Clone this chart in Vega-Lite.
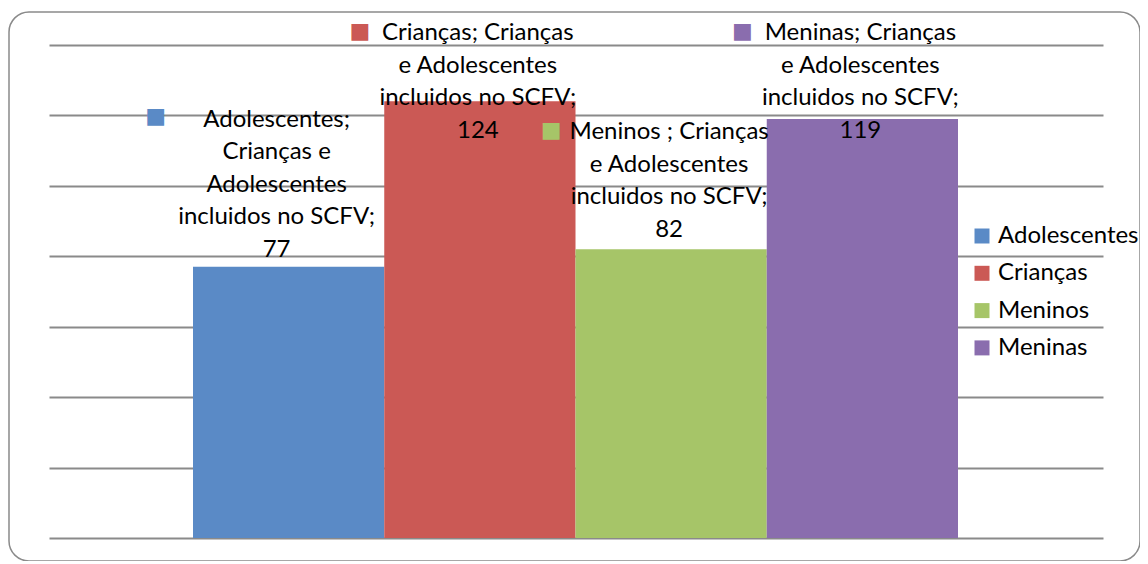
{
  "$schema": "https://vega.github.io/schema/vega-lite/v6.json",
  "autosize": "none",
  "padding": {"left": 9, "top": 12, "right": 0, "bottom": 0},
  "width": 1131,
  "height": 549,
  "background": "white",
  "config": {
    "font": "Lato",
    "view": {"stroke": "#8a8a8a", "strokeWidth": 1.5, "cornerRadius": 20}
  },
  "data": {
    "values": [
      {"serie": "Adolescentes", "valor": 77, "rotulo": "Adolescentes;\nCrianças e\nAdolescentes\nincluidos no SCFV;\n77", "chave": "■"},
      {"serie": "Crianças", "valor": 124, "rotulo": "Crianças; Crianças\ne Adolescentes\nincluidos no SCFV;\n124", "chave": "■"},
      {"serie": "Meninos", "valor": 82, "rotulo": "Meninos ; Crianças\ne Adolescentes\nincluidos no SCFV;\n82", "chave": "■"},
      {"serie": "Meninas", "valor": 119, "rotulo": "Meninas; Crianças\ne Adolescentes\nincluidos no SCFV;\n119", "chave": "■"}
    ]
  },
  "encoding": {
    "x": {
      "field": "serie", "type": "nominal", "sort": null, "axis": null,
      "scale": {"range": [184, 949], "paddingInner": 0, "paddingOuter": 0}
    },
    "color": {
      "field": "serie", "type": "nominal", "sort": null,
      "scale": {"range": ["#5A8AC6", "#CB5955", "#A6C568", "#8A6DAE"]},
      "legend": {
        "title": null, "orient": "none", "legendX": 961, "legendY": 212,
        "symbolType": "square", "symbolSize": 225, "symbolStrokeWidth": 0,
        "labelFontSize": 24, "labelFont": "Lato", "labelColor": "#000000",
        "labelOffset": 4, "rowPadding": 13.3, "padding": 0
      }
    }
  },
  "layer": [
    {
      "mark": {"type": "bar"},
      "encoding": {
        "y": {
          "field": "valor", "type": "quantitative",
          "scale": {"domain": [0, 140], "range": [526, 33], "nice": false, "zero": true},
          "axis": {
            "values": [0, 20, 40, 60, 80, 100, 120, 140],
            "orient": "left", "offset": -40, "tickSize": -1054,
            "tickColor": "#8a8a8a", "tickWidth": 2, "domain": false,
            "labels": false, "title": null, "grid": false
          }
        }
      }
    },
    {
      "transform": [{"filter": "datum.serie === 'Adolescentes'"}],
      "mark": {"type": "text", "fontSize": 24, "font": "Lato", "lineBreak": "\n", "lineHeight": 32.5, "baseline": "bottom", "align": "center", "dy": -135, "dx": -12, "color": "#000000"},
      "encoding": {
        "y": {
          "field": "valor", "type": "quantitative",
          "scale": {"domain": [0, 110.2], "range": [526, 138], "nice": false, "zero": true, "clamp": true},
          "axis": null
        },
        "text": {"field": "rotulo", "type": "nominal"},
        "color": {"value": "#000000"}
      }
    },
    {
      "transform": [{"filter": "datum.serie !== 'Adolescentes'"}],
      "mark": {"type": "text", "fontSize": 24, "font": "Lato", "lineBreak": "\n", "lineHeight": 32.5, "baseline": "bottom", "align": "center", "dy": -105, "dx": -2, "color": "#000000"},
      "encoding": {
        "y": {
          "field": "valor", "type": "quantitative",
          "scale": {"domain": [0, 110.2], "range": [526, 138], "nice": false, "zero": true, "clamp": true},
          "axis": null
        },
        "text": {"field": "rotulo", "type": "nominal"},
        "color": {"value": "#000000"}
      }
    },
    {
      "transform": [{"filter": "datum.serie === 'Adolescentes'"}],
      "mark": {"type": "text", "fontSize": 22, "font": "DejaVu Sans", "baseline": "bottom", "align": "center", "dy": -139, "dx": -133},
      "encoding": {
        "y": {
          "field": "valor", "type": "quantitative",
          "scale": {"domain": [0, 110.2], "range": [526, 138], "nice": false, "zero": true, "clamp": true},
          "axis": null
        },
        "text": {"field": "chave", "type": "nominal"}
      }
    },
    {
      "transform": [{"filter": "datum.serie !== 'Adolescentes'"}],
      "mark": {"type": "text", "fontSize": 22, "font": "DejaVu Sans", "baseline": "bottom", "align": "center", "dy": -107, "dx": -120},
      "encoding": {
        "y": {
          "field": "valor", "type": "quantitative",
          "scale": {"domain": [0, 110.2], "range": [526, 138], "nice": false, "zero": true, "clamp": true},
          "axis": null
        },
        "text": {"field": "chave", "type": "nominal"}
      }
    }
  ],
  "resolve": {"scale": {"y": "independent"}}
}
